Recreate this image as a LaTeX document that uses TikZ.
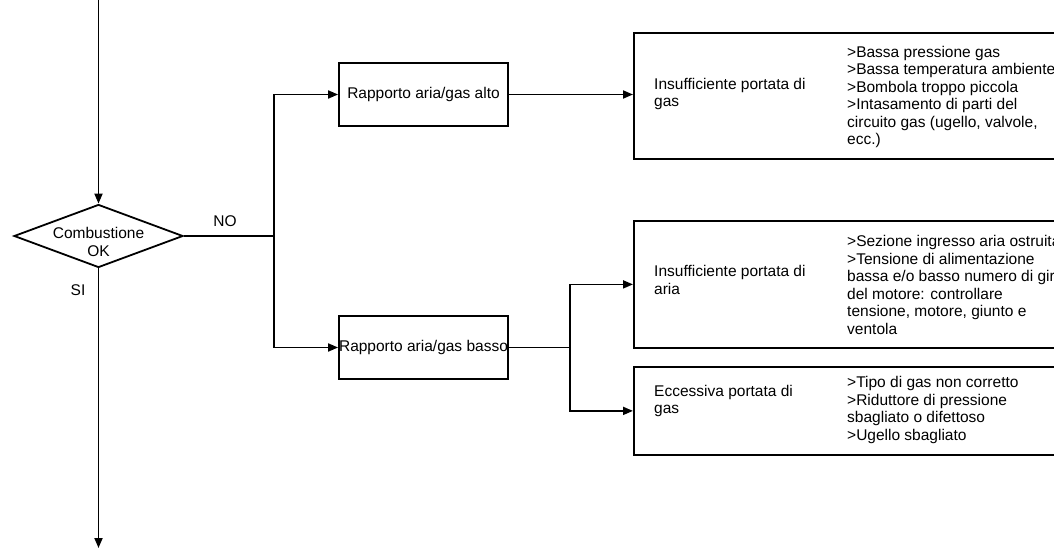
\documentclass[tikz,border=0pt]{standalone}
\usepackage{fontspec}
\setmainfont{Liberation Sans}
\usetikzlibrary{shapes.geometric,arrows.meta}
\begin{document}
\begin{tikzpicture}[x=1pt,y=-1pt,
  every node/.style={font=\fontsize{15.5}{17.5}\selectfont},
  line/.style={line width=1.8pt},
  arr/.style={line width=1.8pt,-{Triangle[length=10pt,width=8pt]}},
  smallbox/.style={draw,line width=1.8pt,minimum width=169pt,minimum height=63pt,inner sep=0pt},
  bigbox/.style={draw,line width=1.8pt,minimum width=440pt,inner sep=0pt,anchor=north west},
  txt/.style={align=left,inner sep=0pt,anchor=west}]
\useasboundingbox (0,0) rectangle (1054,548);
\clip (0,0) rectangle (1054,548);
% decision
\node[diamond,draw,line width=1.8pt,minimum width=169pt,minimum height=63pt,inner sep=0pt] (dec) at (98.5,236) {};
\node[align=center,inner sep=0pt] (dectxt) at (98.5,242) {Combustione\\OK};
\coordinate (top) at (98.5,0);
\coordinate (bot) at (98.5,548);
\draw[arr] (top) -- (dec.north);
\draw[arr] (dec.south) -- (bot);
\node (no) at (225,221) {NO};
\node (si) at (78,290) {SI};
% first level
\node[smallbox] (r1) at (423.5,94.5) {Rapporto aria/gas alto};
\node[smallbox] (r2) at (423.5,347.5) {Rapporto aria/gas basso};
\coordinate (j1) at (274,236);
\draw[line] (dec.east) -- (j1);
\draw[arr] (j1) |- (r1.west);
\draw[arr] (j1) |- (r2.west);
% big boxes
\node[bigbox,minimum height=126pt] (b1) at (633,32) {};
\node[bigbox,minimum height=127pt] (b2) at (633,220) {};
\node[bigbox,minimum height=88pt] (b3) at (633,366) {};
\node[txt] (b1l) at (654,94) {Insufficiente portata di\\gas};
\node[txt] (b1r) at (847,97) {>Bassa pressione gas\\>Bassa temperatura ambiente\\>Bombola troppo piccola\\>Intasamento di parti del\\circuito gas (ugello, valvole,\\ecc.)};
\node[txt] (b2l) at (654,280) {Insufficiente portata di\\aria};
\node[txt] (b2r) at (847,285) {>Sezione ingresso aria ostruita\\>Tensione di alimentazione\\bassa e/o basso numero di giri\\del motore: controllare\\tensione, motore, giunto e\\ventola};
\node[txt] (b3l) at (654,401) {Eccessiva portata di\\gas};
\node[txt] (b3r) at (847,410) {>Tipo di gas non corretto\\>Riduttore di pressione\\sbagliato o difettoso\\>Ugello sbagliato};
% connectors
\draw[arr] (r1.east) -- (r1.east -| b1.west);
\coordinate (j2) at (570,347.5);
\draw[line] (r2.east) -- (j2);
\draw[arr] (j2) |- (b2.west);
\draw[arr] (j2) |- (b3.west);
\end{tikzpicture}
\end{document}
